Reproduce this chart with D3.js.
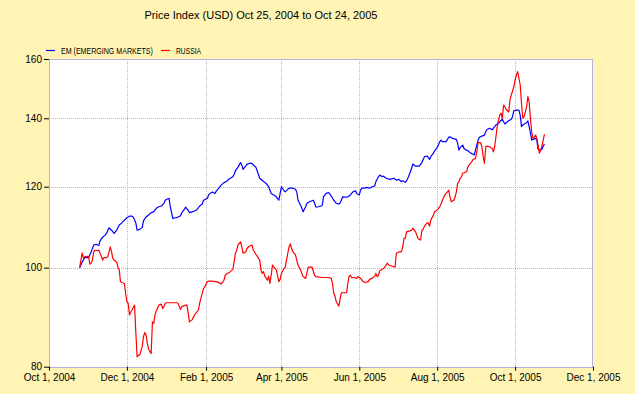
<!DOCTYPE html>
<html><head><meta charset="utf-8">
<script src="https://cdn.jsdelivr.net/npm/d3@7"></script>
<style>html,body{margin:0;padding:0;background:#FFF4B4;} svg{display:block}</style>
</head><body><svg id="c" width="635" height="394"></svg>
<script>
const chartTitle = "Price Index (USD) Oct 25, 2004 to Oct 24, 2005";
const seriesNames = ["EM (EMERGING MARKETS)", "RUSSIA"];
const seriesColors = ["#0000FF", "#FF0000"];
const xTickDates = ["2004-10-01","2004-12-01","2005-02-01","2005-04-01","2005-06-01","2005-08-01","2005-10-01","2005-12-01"];
const yTicks = [80, 100, 120, 140, 160];

const emSeries = [
["2004-10-25",100.0],["2004-10-27",101.3],["2004-10-29",102.3],["2004-11-01",102.3],["2004-11-03",103.6],["2004-11-05",105.2],["2004-11-07",105.4],["2004-11-09",105.1],["2004-11-10",106.2],["2004-11-12",107.1],["2004-11-14",107.6],["2004-11-15",108.0],["2004-11-17",109.4],["2004-11-19",108.8],["2004-11-21",108.0],["2004-11-23",108.8],["2004-11-25",110.1],["2004-11-27",110.6],["2004-11-29",111.3],
["2004-12-01",111.9],["2004-12-03",112.3],["2004-12-05",112.3],["2004-12-06",112.1],["2004-12-08",110.6],["2004-12-09",108.8],["2004-12-11",109.0],["2004-12-13",109.5],["2004-12-14",111.1],["2004-12-16",112.1],["2004-12-18",112.6],["2004-12-20",113.2],["2004-12-22",113.4],["2004-12-24",114.3],["2004-12-26",114.7],["2004-12-28",114.9],["2004-12-30",115.6],["2004-12-31",116.4],
["2005-01-02",116.8],["2005-01-03",116.9],["2005-01-04",114.7],["2005-01-06",111.7],["2005-01-08",111.9],["2005-01-09",111.9],["2005-01-12",112.4],["2005-01-13",113.2],["2005-01-15",114.0],["2005-01-16",114.6],["2005-01-18",113.8],["2005-01-19",113.2],["2005-01-21",113.4],["2005-01-23",113.6],["2005-01-25",114.0],["2005-01-27",114.9],["2005-01-29",115.4],["2005-01-30",116.4],
["2005-02-02",116.9],["2005-02-03",117.8],["2005-02-05",118.4],["2005-02-06",118.6],["2005-02-08",118.2],["2005-02-09",118.8],["2005-02-11",119.6],["2005-02-13",120.5],["2005-02-15",121.1],["2005-02-17",121.4],["2005-02-18",121.8],["2005-02-20",122.3],["2005-02-22",122.7],["2005-02-23",123.4],["2005-02-24",124.4],["2005-02-26",125.4],["2005-02-28",126.7],
["2005-03-01",126.0],["2005-03-02",124.8],["2005-03-04",125.7],["2005-03-05",126.2],["2005-03-07",126.5],["2005-03-09",126.5],["2005-03-10",126.0],["2005-03-12",125.4],["2005-03-13",124.4],["2005-03-15",122.3],["2005-03-18",121.4],["2005-03-20",120.9],["2005-03-22",120.0],["2005-03-24",118.2],["2005-03-26",117.8],["2005-03-28",117.3],["2005-03-30",116.4],["2005-03-31",118.2],
["2005-04-01",120.0],["2005-04-03",118.9],["2005-04-04",118.6],["2005-04-06",119.3],["2005-04-07",119.6],["2005-04-10",119.6],["2005-04-12",119.3],["2005-04-13",118.6],["2005-04-14",116.4],["2005-04-16",115.1],["2005-04-17",114.3],["2005-04-18",113.4],["2005-04-20",114.7],["2005-04-21",115.6],["2005-04-23",116.0],["2005-04-26",116.4],["2005-04-27",115.6],["2005-04-28",114.6],["2005-04-30",114.7],
["2005-05-02",114.9],["2005-05-03",115.1],["2005-05-04",117.3],["2005-05-06",118.2],["2005-05-08",118.4],["2005-05-09",118.0],["2005-05-10",117.5],["2005-05-12",116.4],["2005-05-14",115.6],["2005-05-16",115.4],["2005-05-17",115.7],["2005-05-19",117.3],["2005-05-20",117.2],["2005-05-23",117.3],["2005-05-25",117.8],["2005-05-27",118.6],["2005-05-29",118.9],["2005-05-30",118.2],
["2005-06-01",117.8],["2005-06-02",119.1],["2005-06-03",119.6],["2005-06-05",119.6],["2005-06-07",119.8],["2005-06-09",119.6],["2005-06-11",120.0],["2005-06-13",120.2],["2005-06-14",121.4],["2005-06-16",122.7],["2005-06-17",123.2],["2005-06-19",122.7],["2005-06-20",122.9],["2005-06-22",122.3],["2005-06-25",122.0],["2005-06-28",122.3],["2005-06-30",121.8],
["2005-07-02",122.0],["2005-07-04",121.4],["2005-07-05",121.6],["2005-07-07",121.2],["2005-07-08",121.6],["2005-07-09",122.3],["2005-07-10",123.2],["2005-07-11",124.1],["2005-07-12",125.1],["2005-07-13",126.3],["2005-07-15",125.7],["2005-07-16",125.7],["2005-07-18",125.7],["2005-07-20",126.7],["2005-07-21",127.6],["2005-07-22",128.4],["2005-07-24",128.6],["2005-07-25",128.2],["2005-07-26",127.6],["2005-07-27",128.4],["2005-07-29",129.4],["2005-07-30",130.1],
["2005-08-01",131.1],["2005-08-03",132.8],["2005-08-04",133.3],["2005-08-05",132.8],["2005-08-08",132.8],["2005-08-10",134.1],["2005-08-11",134.3],["2005-08-13",133.8],["2005-08-16",133.5],["2005-08-17",132.3],["2005-08-18",130.3],["2005-08-19",131.1],["2005-08-21",131.8],["2005-08-22",130.8],["2005-08-24",130.3],["2005-08-25",130.1],["2005-08-27",129.5],["2005-08-29",129.1],["2005-08-30",128.9],["2005-08-31",130.3],
["2005-09-02",133.3],["2005-09-03",134.1],["2005-09-05",134.5],["2005-09-07",134.8],["2005-09-08",135.8],["2005-09-09",136.5],["2005-09-11",136.9],["2005-09-13",136.4],["2005-09-14",136.9],["2005-09-16",137.9],["2005-09-18",138.4],["2005-09-19",138.9],["2005-09-21",139.7],["2005-09-22",138.9],["2005-09-23",138.2],["2005-09-24",138.6],["2005-09-26",139.2],["2005-09-28",139.7],["2005-09-29",140.5],["2005-09-30",142.4],
["2005-10-02",142.6],["2005-10-04",142.6],["2005-10-05",141.0],["2005-10-06",137.4],["2005-10-07",137.9],["2005-10-10",138.6],["2005-10-11",139.2],["2005-10-12",137.4],["2005-10-13",135.5],["2005-10-14",133.3],["2005-10-15",133.5],["2005-10-17",133.8],["2005-10-18",133.3],["2005-10-19",130.5],["2005-10-20",130.3],["2005-10-22",130.5],["2005-10-23",131.5],["2005-10-24",132.1]
];

const russiaSeries = [
["2004-10-25",100.0],["2004-10-26",101.7],["2004-10-27",103.4],["2004-10-28",102.1],["2004-10-29",102.5],["2004-10-31",102.6],["2004-11-01",102.5],["2004-11-02",100.8],["2004-11-03",101.0],["2004-11-04",101.7],["2004-11-05",103.6],["2004-11-06",104.0],["2004-11-08",103.9],["2004-11-09",104.0],["2004-11-11",102.6],["2004-11-12",101.7],["2004-11-13",102.3],["2004-11-15",102.3],["2004-11-16",102.5],["2004-11-18",104.8],["2004-11-19",103.6],["2004-11-20",102.1],["2004-11-21",101.7],["2004-11-23",101.3],["2004-11-24",100.1],["2004-11-25",99.5],["2004-11-26",96.9],["2004-11-27",96.7],["2004-11-29",96.5],["2004-11-30",94.4],
["2004-12-01",92.6],["2004-12-02",92.3],["2004-12-03",89.9],["2004-12-04",90.5],["2004-12-05",90.9],["2004-12-07",91.9],["2004-12-08",86.4],["2004-12-09",81.8],["2004-12-10",82.1],["2004-12-11",82.1],["2004-12-13",83.7],["2004-12-14",85.6],["2004-12-15",86.4],["2004-12-16",85.9],["2004-12-17",84.3],["2004-12-18",83.2],["2004-12-20",82.4],["2004-12-21",88.5],["2004-12-22",88.2],["2004-12-23",89.9],["2004-12-24",90.7],["2004-12-26",91.9],["2004-12-28",92.1],["2004-12-29",91.2],["2004-12-30",91.6],["2004-12-31",92.3],
["2005-01-01",92.4],["2005-01-05",92.4],["2005-01-09",92.4],["2005-01-10",92.3],["2005-01-12",91.0],["2005-01-13",91.6],["2005-01-16",91.9],["2005-01-17",91.9],["2005-01-18",90.3],["2005-01-19",88.5],["2005-01-21",88.9],["2005-01-23",89.9],["2005-01-26",90.9],["2005-01-27",92.3],["2005-01-29",94.4],["2005-01-30",95.4],["2005-01-31",95.8],
["2005-02-02",96.9],["2005-02-03",97.0],["2005-02-05",97.0],["2005-02-09",96.9],["2005-02-13",96.4],["2005-02-15",97.2],["2005-02-16",98.3],["2005-02-17",98.6],["2005-02-20",99.1],["2005-02-22",99.6],["2005-02-24",103.3],["2005-02-25",104.0],["2005-02-26",105.2],["2005-02-28",106.0],
["2005-03-01",104.8],["2005-03-02",103.3],["2005-03-04",103.6],["2005-03-05",104.4],["2005-03-07",105.0],["2005-03-09",105.2],["2005-03-10",104.0],["2005-03-13",102.6],["2005-03-15",101.7],["2005-03-16",99.5],["2005-03-17",98.7],["2005-03-18",99.1],["2005-03-19",98.1],["2005-03-21",97.2],["2005-03-22",98.1],["2005-03-23",96.5],["2005-03-24",98.3],["2005-03-25",100.6],["2005-03-26",100.2],["2005-03-28",99.5],["2005-03-30",96.9],["2005-03-31",97.4],
["2005-04-01",98.7],["2005-04-03",99.8],["2005-04-04",100.1],["2005-04-06",103.3],["2005-04-07",104.8],["2005-04-08",105.5],["2005-04-09",104.4],["2005-04-10",103.6],["2005-04-12",102.9],["2005-04-13",101.7],["2005-04-14",100.6],["2005-04-16",99.5],["2005-04-17",98.7],["2005-04-18",98.0],["2005-04-20",97.6],["2005-04-21",98.9],["2005-04-22",100.1],["2005-04-25",100.1],["2005-04-27",98.3],["2005-04-28",98.0],
["2005-05-03",97.8],["2005-05-08",97.8],["2005-05-10",97.6],["2005-05-11",96.5],["2005-05-12",94.4],["2005-05-13",93.7],["2005-05-14",92.6],["2005-05-16",91.7],["2005-05-17",93.3],["2005-05-18",94.5],["2005-05-22",94.5],["2005-05-23",96.5],["2005-05-24",98.1],["2005-05-25",98.3],["2005-05-26",97.8],["2005-05-28",97.8],["2005-05-30",97.6],["2005-05-31",98.0],
["2005-06-02",97.6],["2005-06-04",96.9],["2005-06-06",96.7],["2005-06-08",96.9],["2005-06-09",97.4],["2005-06-11",97.6],["2005-06-13",98.1],["2005-06-14",98.7],["2005-06-15",98.0],["2005-06-16",98.3],["2005-06-17",99.3],["2005-06-20",99.8],["2005-06-21",100.2],["2005-06-23",101.0],["2005-06-24",100.6],["2005-06-28",100.2],["2005-06-29",100.1],["2005-06-30",103.3],
["2005-07-02",103.6],["2005-07-04",103.6],["2005-07-05",104.8],["2005-07-06",106.8],["2005-07-07",106.8],["2005-07-08",108.4],["2005-07-11",108.7],["2005-07-12",108.8],["2005-07-13",109.3],["2005-07-15",108.4],["2005-07-16",107.6],["2005-07-17",106.8],["2005-07-19",106.4],["2005-07-20",108.8],["2005-07-21",109.0],["2005-07-22",109.8],["2005-07-24",110.6],["2005-07-25",110.6],["2005-07-26",109.8],["2005-07-27",111.3],["2005-07-29",112.6],["2005-07-30",113.4],
["2005-08-01",113.9],["2005-08-03",114.7],["2005-08-04",115.4],["2005-08-05",116.4],["2005-08-07",117.8],["2005-08-09",118.6],["2005-08-10",119.1],["2005-08-11",117.3],["2005-08-12",116.0],["2005-08-14",116.4],["2005-08-15",117.3],["2005-08-16",118.6],["2005-08-17",120.9],["2005-08-18",121.4],["2005-08-19",122.3],["2005-08-20",122.7],["2005-08-21",123.7],["2005-08-24",124.1],["2005-08-25",125.5],["2005-08-27",126.5],["2005-08-28",126.9],["2005-08-29",127.6],["2005-08-31",127.9],
["2005-09-01",129.8],["2005-09-02",132.5],["2005-09-04",132.5],["2005-09-05",131.3],["2005-09-06",128.4],["2005-09-07",126.5],["2005-09-08",131.3],["2005-09-09",131.5],["2005-09-11",131.3],["2005-09-13",130.8],["2005-09-14",129.8],["2005-09-15",131.3],["2005-09-16",134.3],["2005-09-17",137.4],["2005-09-18",139.4],["2005-09-19",141.0],["2005-09-20",141.6],["2005-09-21",140.0],["2005-09-22",144.2],["2005-09-23",143.7],["2005-09-24",142.8],["2005-09-26",142.0],["2005-09-27",145.9],["2005-09-28",147.5],["2005-09-30",150.3],
["2005-10-01",152.6],["2005-10-02",154.3],["2005-10-03",155.5],["2005-10-05",150.9],["2005-10-06",144.8],["2005-10-07",140.0],["2005-10-08",140.5],["2005-10-09",142.0],["2005-10-10",143.7],["2005-10-11",147.0],["2005-10-12",145.3],["2005-10-13",140.0],["2005-10-14",135.8],["2005-10-15",133.8],["2005-10-16",134.1],["2005-10-17",134.8],["2005-10-18",133.8],["2005-10-19",131.8],["2005-10-20",129.4],["2005-10-21",130.3],["2005-10-22",131.5],["2005-10-23",133.3],["2005-10-24",135.1]
];

const parse = d3.timeParse("%Y-%m-%d");
const L = 49, R = 593, T = 59, B = 366.7;
const svg = d3.select("#c");
svg.append("rect").attr("width", 635).attr("height", 394).attr("fill", "#FFF4B4");

const x = d3.scaleTime().domain([parse(xTickDates[0]), parse(xTickDates[xTickDates.length-1])]).range([L, R]);
const y = d3.scaleLog().domain([80, 160]).range([B, T]);

svg.append("rect").attr("x", L).attr("y", T).attr("width", R - L).attr("height", B - T).attr("fill", "#FFFFFF");

const grid = svg.append("g").attr("shape-rendering", "crispEdges");
grid.selectAll("line.v").data(xTickDates.slice(1, -1)).join("line")
  .attr("x1", d => Math.round(x(parse(d))) + 0.5).attr("x2", d => Math.round(x(parse(d))) + 0.5)
  .attr("y1", T).attr("y2", B)
  .attr("stroke", "#B4B4C4").attr("stroke-dasharray", "1,1");
grid.selectAll("line.h").data(yTicks.slice(1, -1)).join("line")
  .attr("y1", d => Math.round(y(d)) + 0.5).attr("y2", d => Math.round(y(d)) + 0.5)
  .attr("x1", L).attr("x2", R)
  .attr("stroke", "#B4B4C4").attr("stroke-dasharray", "1,1");

svg.append("clipPath").attr("id", "clip").append("rect").attr("x", L).attr("y", T).attr("width", R - L).attr("height", B - T);
const line = d3.line().x(d => x(parse(d[0]))).y(d => y(d[1]));
const lg = svg.append("g").attr("clip-path", "url(#clip)");
[emSeries, russiaSeries].forEach((s, i) => {
  lg.append("path").datum(s).attr("d", line).attr("fill", "none")
    .attr("stroke", seriesColors[i]).attr("stroke-width", 1.2).attr("stroke-linejoin", "round");
});

svg.append("rect").attr("x", L + 0.5).attr("y", T + 0.5).attr("width", R - L - 1).attr("height", B - T)
  .attr("fill", "none").attr("stroke", "#B4B4DC").attr("shape-rendering", "crispEdges");

const xAxis = d3.axisBottom(x).tickValues(xTickDates.map(parse)).tickSize(4).tickPadding(3)
  .tickFormat(d3.timeFormat("%b %-d, %Y"));
const gx = svg.append("g").attr("transform", `translate(0,${B})`).call(xAxis);
gx.select(".domain").remove();
gx.selectAll("line").attr("stroke", "#000");
gx.selectAll("text").attr("fill", "#000").style("font", "10px 'Liberation Sans', Arial, sans-serif");

const yAxis = d3.axisLeft(y).tickValues(yTicks).tickSize(5).tickPadding(2).tickFormat(d3.format("d"));
const gy = svg.append("g").attr("transform", `translate(${L},0)`).call(yAxis);
gy.select(".domain").remove();
gy.selectAll("line").attr("stroke", "#000");
gy.selectAll("text").attr("fill", "#000").style("font", "10px 'Liberation Sans', Arial, sans-serif");

svg.append("text").attr("x", 261).attr("y", 19).attr("text-anchor", "middle")
  .style("font", "11px 'Liberation Sans', Arial, sans-serif").attr("fill", "#000").text(chartTitle);

// legend: text horizontally condensed with a transform so its box matches its drawn width
const legendX = [46, 161], legendW = [92, 25];
seriesNames.forEach((n, i) => {
  svg.append("line").attr("x1", legendX[i]).attr("x2", legendX[i] + 9).attr("y1", 50.5).attr("y2", 50.5)
    .attr("stroke", seriesColors[i]).attr("stroke-width", 1.2);
  const t = svg.append("text").attr("x", 0).attr("y", 0)
    .style("font", "9.5px 'Liberation Sans', Arial, sans-serif").attr("fill", "#000").text(n);
  const w = t.node().getComputedTextLength();
  const sx = Math.min(1, legendW[i] / w);
  t.attr("transform", `translate(${legendX[i] + 15},54) scale(${sx},1)`);
});
</script></body></html>
